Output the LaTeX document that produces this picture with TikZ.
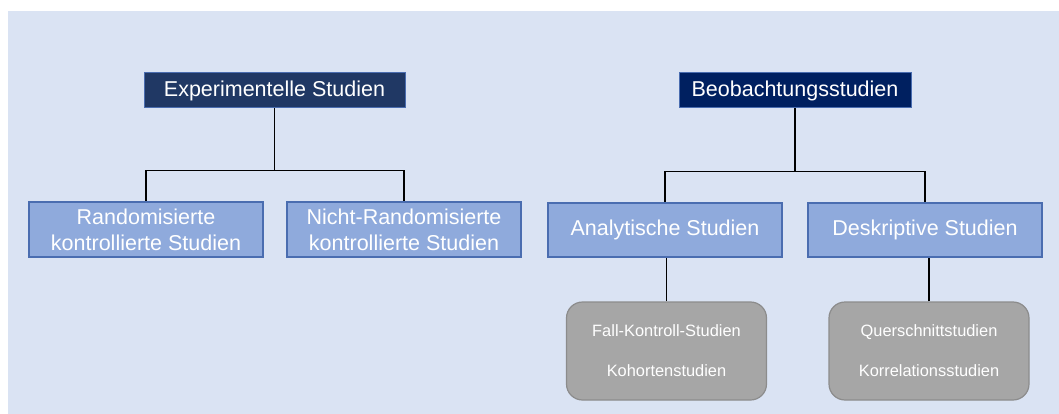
\documentclass[tikz,border=0pt]{standalone}
\usepackage{fontspec}
\setmainfont{Liberation Sans}
\definecolor{bgblue}{HTML}{DAE3F3}
\definecolor{navyl}{HTML}{203864}
\definecolor{navyr}{HTML}{002060}
\definecolor{midblue}{HTML}{8FAADC}
\definecolor{edgeblue}{HTML}{4A6DB0}
\definecolor{leafgray}{HTML}{A6A6A6}
\definecolor{leafedge}{HTML}{8C8C8C}
\begin{document}
\begin{tikzpicture}[x=1pt, y=-1pt,
  top/.style={draw=edgeblue, line width=1pt, text=white, inner sep=0pt, minimum height=35pt,
    font=\fontsize{21.5}{24}\selectfont},
  sub/.style={draw=edgeblue, fill=midblue, line width=1.5pt, text=white, inner sep=0pt,
    minimum width=234pt, minimum height=55pt, align=center, font=\fontsize{21.5}{26}\selectfont},
  leaf/.style={draw=leafedge, fill=leafgray, line width=1.2pt, rounded corners=16pt, text=white,
    inner sep=0pt, minimum width=200pt, minimum height=98pt, align=center,
    font=\fontsize{16.4}{40}\selectfont},
  link/.style={draw=black, line width=1.5pt}]
\useasboundingbox (0,0) rectangle (1059,414);
\fill[bgblue] (8,11) rectangle (1059,414);
\node[top, fill=navyl, minimum width=261pt] (exp) at (274.5,90.5) {Experimentelle Studien};
\node[top, fill=navyr, minimum width=232pt] (beo) at (795,90.5) {Beobachtungsstudien};
\node[sub] (rand) at (146,229.5) {Randomisierte\\kontrollierte Studien};
\node[sub] (nrand) at (404,229.5) {Nicht-Randomisierte\\kontrollierte Studien};
\node[sub, minimum height=54pt] (ana) at (665,230) {Analytische Studien};
\node[sub, minimum height=54pt] (desk) at (925,230) {Deskriptive Studien};
\node[leaf] (fall) at (666.5,351) {Fall-Kontroll-Studien\\Kohortenstudien};
\node[leaf] (quer) at (929,351) {Querschnittstudien\\Korrelationsstudien};
\draw[link] (exp.south) -- ++(0,62) -| (rand.north);
\draw[link] (exp.south) -- ++(0,62) -| (nrand.north);
\draw[link] (beo.south) -- ++(0,63) -| (ana.north);
\draw[link] (beo.south) -- ++(0,63) -| (desk.north);
\draw[link] (fall.north) -- (fall.north |- ana.south);
\draw[link] (quer.north) -- (quer.north |- desk.south);
\end{tikzpicture}
\end{document}
